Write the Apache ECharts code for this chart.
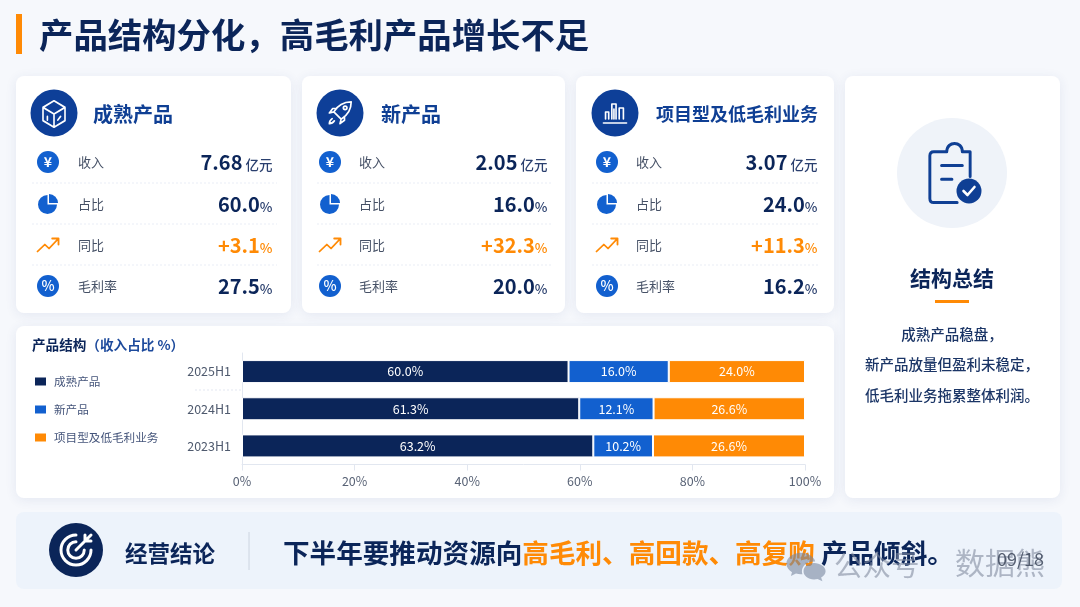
<!DOCTYPE html>
<html>
<head>
<meta charset="utf-8">
<style>html,body{margin:0;padding:0;background:#f6f8fc}#c{width:1080px;height:607px}</style>
<script src="https://cdn.jsdelivr.net/npm/echarts@6/dist/echarts.min.js"></script>
</head>
<body>
<div id="c"></div>
<script>
// ---- chart data ----
const categories = ['2025H1', '2024H1', '2023H1'];
const seriesNames = ['成熟产品', '新产品', '项目型及低毛利业务'];
// Bar lengths (the reference's bars differ slightly from their printed labels)
const matureBars = [58.0, 59.9, 62.4];
const newBars = [17.8, 13.2, 10.6];
const projectBars = [24.2, 26.9, 27.0];
// Printed labels in the reference
const matureLabels = ['60.0%', '61.3%', '63.2%'];
const newLabels = ['16.0%', '12.1%', '10.2%'];
const projectLabels = ['24.0%', '26.6%', '26.6%'];
const axisTicks = [0, 20, 40, 60, 80, 100];

// ---- KPI card data ----
const rowNames = ['收入', '占比', '同比', '毛利率'];
const matureKpi = ['7.68', '60.0', '+3.1', '27.5'];
const newKpi = ['2.05', '16.0', '+32.3', '20.0'];
const projectKpi = ['3.07', '24.0', '+11.3', '16.2'];
const pageTitle = '产品结构分化，高毛利产品增长不足';
const summaryTitle = '结构总结';
const summaryLines = ['成熟产品稳盘，', '新产品放量但盈利未稳定，', '低毛利业务拖累整体利润。'];
const chartTitle = '产品结构';
const chartSubTitle = '（收入占比 %）';

const FONT = '"Noto Sans CJK SC","Noto Sans",sans-serif';
const NAVY = '#0b2559', BLUE = '#1260cf', ORANGE = '#ff8a05', HEAD = '#0f3f94';

const ICONS = {
  iconCube: 'M12 1 L22 6.5 V17.5 L12 23 L2 17.5 V6.5 Z M2 6.5 L12 12 L22 6.5 M12 12 V23 M6 14 V17 M18 14 L15.5 17',
  iconRocket: 'M22 2 C15 2 10 5 6.5 11 L13 17.5 C19 14 22 9 22 2 Z M6.5 11 L2.5 12 L5.5 8 H9 M13 17.5 L12 21.5 L16 18.5 V15 M5 17 C3.5 18 2.5 20 2.5 21.5 C4 21.5 6 20.5 7 19 M15 7.4 A1.6 1.6 0 1 0 18.2 7.4 A1.6 1.6 0 1 0 15 7.4',
  iconBars: 'M1 22 H23 M3 18 V11 H6 V18 M9 18 V3 H13 V18 M11 8 V18 M16 18 V7 H20 V18',
  iconTrend: 'M1 16 L8 9 L12 13 L21 3 M15 3 H21 V9',
  iconClip: 'M17 13 V4 H14 C14 2 12.500 1 11 1 C9.500 1 8 2 8 4 H3 C2 4 1.500 4.500 1.500 5.500 V21 C1.500 22 2 22.500 3 22.500 H12 M6 9 H14 M6 14 H10',
  iconCheck: 'M1 5 L5 9 L12 1',
  iconTarget: 'M12 2 A10 10 0 1 0 22 12 M12 6.500 A5.500 5.500 0 1 0 17.500 12 M12 12 L22 2 M18 2 V6 H22',
  iconChat: 'M9 2 C4 2 0 5.500 0 9.500 C0 12 1.500 14 3.500 15.300 L2.800 18 L6 16.300 C7 16.600 8 16.800 9 16.800 C9.300 16.800 9.600 16.800 10 16.700 C9.800 16 9.700 15.400 9.700 14.700 C9.700 11 13 8 17.300 8 C17.600 8 17.800 8 18 8 C17.200 4.500 13.500 2 9 2 Z M17.300 9 C13.600 9 10.700 11.500 10.700 14.700 C10.700 17.800 13.600 20.300 17.300 20.300 C18 20.300 18.800 20.200 19.500 20 L22.500 21.500 L21.700 19 C23.400 17.900 24.500 16.400 24.500 14.700 C24.500 11.500 21 9 17.300 9 Z'
};
Object.keys(ICONS).forEach(k => echarts.graphic.registerShape(k, echarts.graphic.extendPath(ICONS[k], {})));

const g = [];
function text(t, x, y, size, fill, weight, align, extra) {
  g.push(Object.assign({type:'text', z:5, silent:true, style:{text:t, x:x, y:y, fontSize:size, fontFamily:FONT,
    fontWeight:weight||400, fill:fill, align:align||'left', verticalAlign:'middle'}}, extra||{}));
}
function card(x, y, w, h, fill, shadow) {
  g.push({type:'rect', z:-10, silent:true, shape:{x:x, y:y, width:w, height:h, r:8},
    style:Object.assign({fill:fill||'#fff'}, shadow===false?{}:{shadowBlur:12, shadowOffsetY:2, shadowColor:'rgba(40,70,130,0.09)'})});
}
function circle(cx, cy, r, fill) { g.push({type:'circle', z:2, silent:true, shape:{cx:cx, cy:cy, r:r}, style:{fill:fill}}); }
// draws a registered icon so that grid point (vx,vy) lands on (cx,cy)
function icon(name, cx, cy, sx, sy, st, vx, vy, z) {
  vx = vx === undefined ? 12 : vx; vy = vy === undefined ? 12 : vy;
  const s = Object.assign({fill:'none', lineJoin:'round', lineCap:'round'}, st);
  if (s.lineWidth) s.lineWidth = s.lineWidth / ((sx + sy) / 2);
  g.push({type:name, z:z||3, silent:true, x:cx - vx*sx, y:cy - vy*sy, scaleX:sx, scaleY:sy, style:s});
}
function line(x1, y1, x2, y2, color, dash, w) {
  g.push({type:'line', z:1, silent:true, shape:{x1:x1, y1:y1, x2:x2, y2:y2}, style:{stroke:color, lineWidth:w||1, lineDash:dash||null}});
}

function kpiCard(x, w, title, titleX, titleSize, headCx, iconX, labelX, valueX, divX1, divX2, vals, headIcon) {
  card(x, 76, w, 237);
  circle(headCx, 113, 23.5, '#0e3f98');
  headIcon(headCx, 113);
  text(title, titleX, 114, titleSize, HEAD, 700);
  const rows = [162, 204, 245, 286];
  rows.forEach((y, i) => {
    text(rowNames[i], labelX, y, 13, '#465166', 400);
    const isTrend = i === 2;
    const unit = i === 0 ? ' 亿元' : '%';
    g.push({type:'text', z:5, silent:true, style:{
      text:'{v|' + vals[i] + '}{u|' + unit + '}', x:valueX, y:y - 2, align:'right', verticalAlign:'middle', fontFamily:FONT,
      rich:{v:{fontSize:20, fontWeight:700, fontFamily:FONT, fill:isTrend?ORANGE:NAVY, verticalAlign:'bottom', lineHeight:24},
            u:{fontSize:13.5, fontWeight:500, fontFamily:FONT, fill:isTrend?ORANGE:'#2a3f6e', verticalAlign:'bottom', lineHeight:22}}
    }});
    if (i < 3) line(divX1, y + 21 - (i===0?0:1), divX2, y + 21 - (i===0?0:1), '#e9edf6', [2, 2]);
  });
  // row icons
  circle(iconX, 162, 11, BLUE);
  text('¥', iconX, 162, 14, '#fff', 700, 'center');
  g.push({type:'sector', z:3, silent:true, shape:{cx:iconX-0.5, cy:204.5, r:9.5, r0:0, startAngle:0, endAngle:-Math.PI/2, clockwise:true}, style:{fill:BLUE}});
  g.push({type:'sector', z:3, silent:true, shape:{cx:iconX+1, cy:203, r:9, r0:0, startAngle:-Math.PI/2, endAngle:0, clockwise:true}, style:{fill:BLUE}});
  icon('iconTrend', iconX, 245, 1.05, 1, {stroke:ORANGE, lineWidth:1.8}, 11, 9.5);
  circle(iconX, 286, 11, BLUE);
  text('%', iconX, 286, 14, '#fff', 500, 'center');
}

// page
g.push({type:'rect', z:-9, silent:true, shape:{x:16, y:14, width:6, height:40}, style:{fill:ORANGE}});
text(pageTitle, 39, 35, 34.4, NAVY, 700);

// KPI cards
kpiCard(16, 275, seriesNames[0], 93, 20, 54, 48, 78, 272.5, 32, 277, matureKpi, (x,y)=>icon('iconCube',x,y+1,1.1,1.2,{stroke:'#fff',lineWidth:1.7}));
kpiCard(302, 263, seriesNames[1], 381, 20, 340, 330, 359, 547.5, 317, 552, newKpi, (x,y)=>icon('iconRocket',x,y,1.12,1.12,{stroke:'#fff',lineWidth:1.7}));
kpiCard(576, 258, seriesNames[2], 656, 18, 615, 607, 636, 817.5, 592, 818, projectKpi, (x,y)=>icon('iconBars',x,y,1.05,1.0,{stroke:'#fff',lineWidth:1.6}));

// chart card
card(16, 326, 818, 172);
g.push({type:'text', z:5, silent:true, style:{text:'{a|'+chartTitle+'}{b|'+chartSubTitle+'}', x:32, y:345, verticalAlign:'middle', fontFamily:FONT,
  rich:{a:{fontSize:13.6, fontWeight:700, fontFamily:FONT, fill:NAVY}, b:{fontSize:13.6, fontWeight:700, fontFamily:FONT, fill:'#1d4a9c'}}}});
line(195, 390, 242, 390, '#e3e8f2', [2, 2]);

// summary card
card(845, 76, 215, 422);
circle(952, 173, 55, '#eff3f9');
icon('iconClip', 950, 173, 2.6, 2.75, {stroke:HEAD, lineWidth:3}, 9.25, 11.75);
circle(969, 191, 12.5, HEAD);
icon('iconCheck', 969, 191, 1, 1, {stroke:'#fff', lineWidth:2.6}, 6.5, 5, 4);
text(summaryTitle, 952, 278, 21, NAVY, 700, 'center');
g.push({type:'rect', z:3, silent:true, shape:{x:935, y:300, width:34, height:3}, style:{fill:ORANGE}});
[334, 364, 395].forEach((y, i) => text(summaryLines[i], 952, y, 14.5, '#1b3566', 500, 'center'));

// conclusion banner
card(16, 512, 1046, 77, '#edf3fb', false);
circle(76, 550, 27, NAVY);
icon('iconTarget', 76, 550, 1.5, 1.5, {stroke:'#fff', lineWidth:3});
text('经营结论', 125, 553, 22.5, NAVY, 700);
line(249, 532, 249, 570, '#ccd4e0');
g.push({type:'text', z:5, silent:true, style:{
  text:'{a|下半年要推动资源向}{b|高毛利、高回款、高复购}{a| 产品倾斜。}', x:283, y:553, verticalAlign:'middle', fontFamily:FONT,
  rich:{a:{fontSize:26.6, fontWeight:700, fontFamily:FONT, fill:NAVY}, b:{fontSize:26.6, fontWeight:700, fontFamily:FONT, fill:ORANGE}}}});

// watermark and page number
icon('iconChat', 806, 567, 1.6, 1.45, {fill:'rgba(120,135,160,0.6)'}, 12.25, 11.75, 20);
text('公众号', 834, 565, 28.5, 'rgba(130,140,160,0.6)', 400, 'left', {z:20});
text('数据熊', 955, 563, 30, 'rgba(130,140,160,0.6)', 400, 'left', {z:20});
text('09/18', 1044, 559, 18, 'rgba(60,70,90,0.85)', 400, 'right', {z:21});

function bar(name, values, labels, color) {
  return {name:name, type:'bar', stack:'total', barWidth:23, data:values,
    itemStyle:{color:color, borderColor:'#fff', borderWidth:1},
    label:{show:true, position:'inside', color:'#fff', fontSize:12.5, fontFamily:FONT,
      formatter:p => labels[p.dataIndex]}};
}

const chart = echarts.init(document.getElementById('c'));
chart.setOption({
  animation:false,
  backgroundColor:'#f6f8fc',
  textStyle:{fontFamily:FONT},
  graphic:{elements:g},
  legend:{show:true, orient:'vertical', left:33, top:375.5, padding:0, itemWidth:13, itemHeight:10, itemGap:16, icon:'rect',
    textStyle:{color:'#44547a', fontSize:11.6, fontFamily:FONT, padding:[0,0,0,2]}, data:seriesNames, selectedMode:false},
  grid:{left:242, top:353, width:563, height:111.5},
  xAxis:{type:'value', min:axisTicks[0], max:axisTicks[axisTicks.length-1], interval:axisTicks[1]-axisTicks[0],
    axisLine:{show:true, lineStyle:{color:'#e2e7f0'}}, axisTick:{show:true, length:6, lineStyle:{color:'#e2e7f0'}},
    splitLine:{show:false}, axisLabel:{formatter:'{value}%', color:'#596376', fontSize:12.5, margin:10, fontFamily:FONT}},
  yAxis:{type:'category', inverse:true, data:categories,
    axisLine:{show:true, lineStyle:{color:'#e2e7f0'}}, axisTick:{show:false},
    axisLabel:{color:'#4f5a6e', fontSize:12.5, margin:11, fontFamily:FONT}},
  series:[bar(seriesNames[0], matureBars, matureLabels, NAVY),
          bar(seriesNames[1], newBars, newLabels, BLUE),
          bar(seriesNames[2], projectBars, projectLabels, ORANGE)]
});
</script>
</body>
</html>
